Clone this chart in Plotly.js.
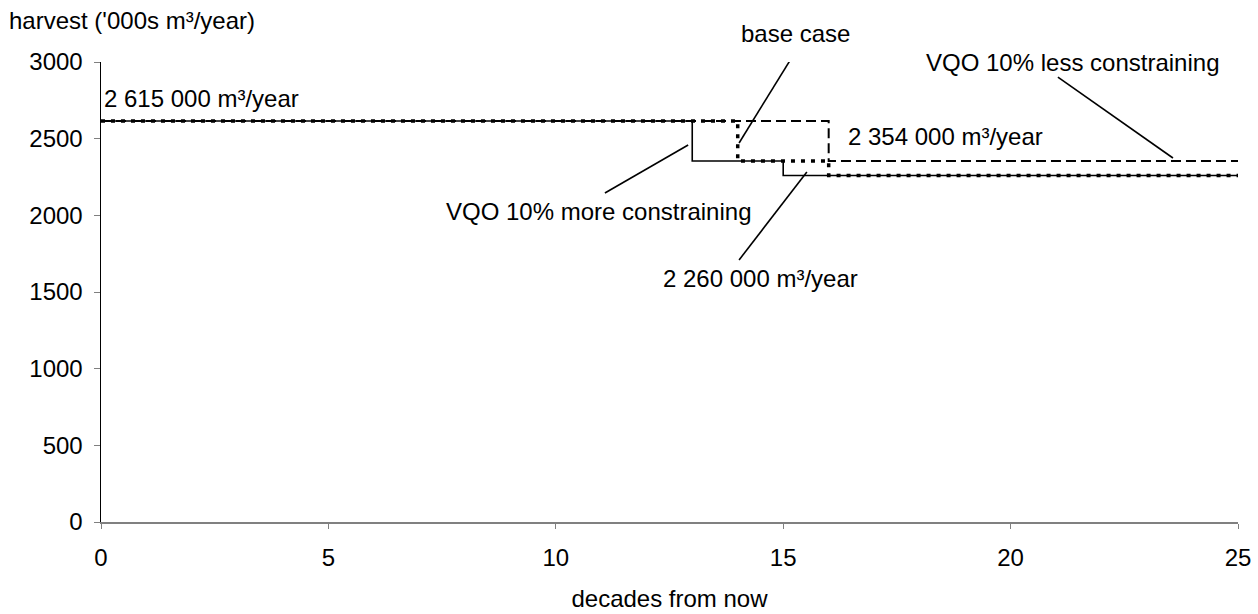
<!DOCTYPE html>
<html>
<head>
<meta charset="utf-8">
<script src="https://cdn.plot.ly/plotly-3.0.1.min.js"></script>
<style>
html,body{margin:0;padding:0;background:#fff;}
#chart{width:1258px;height:614px;}
</style>
</head>
<body>
<div id="chart"></div>
<script>
// decades from now / harvest ('000s m3/year)
const moreX = [0, 13, 15, 25];
const moreY = [2615, 2354, 2260, 2260];
const lessX = [0, 16, 25];
const lessY = [2615, 2354, 2354];
const baseX = [0, 14, 16, 25];
const baseY = [2615, 2354, 2260, 2260];
const seriesNames = ["VQO 10% more constraining", "VQO 10% less constraining", "base case"];

const FONT = "Liberation Sans, Arial, sans-serif";
const FS = 24;

const traces = [
  {x: moreX, y: moreY, name: seriesNames[0], mode: "lines",
   line: {shape: "hv", color: "#000", width: 1.6, dash: "solid"}},
  {x: lessX, y: lessY, name: seriesNames[1], mode: "lines",
   line: {shape: "hv", color: "#000", width: 2, dash: "10px,5px"}},
  {x: baseX, y: baseY, name: seriesNames[2], mode: "lines",
   line: {shape: "hv", color: "#000", width: 3.5, dash: "4px,6px"}}
];

function leader(x0, y0, x1, y1) {
  return {type: "line", xref: "x", yref: "y", x0: x0, y0: y0, x1: x1, y1: y1,
          line: {color: "#000", width: 1.6}, layer: "above"};
}
function label(text, x, y, yshift) {
  return {text: text, x: x, y: y, xref: "x", yref: "y", showarrow: false,
          yshift: yshift || 0,
          xanchor: "center", yanchor: "middle", font: {family: FONT, size: FS, color: "#000"}};
}

const layout = {
  width: 1258, height: 614,
  margin: {l: 101, r: 20, t: 62, b: 92},
  paper_bgcolor: "#fff", plot_bgcolor: "#fff",
  showlegend: false,
  font: {family: FONT, size: FS, color: "#000"},
  xaxis: {
    range: [0, 25], dtick: 5, tick0: 0,
    showgrid: false, zeroline: false,
    showline: true, linecolor: "#808080", linewidth: 1.5,
    ticks: "outside", ticklen: 5, tickcolor: "#808080", tickwidth: 1,
    ticklabelstandoff: 9,
    tickfont: {family: FONT, size: FS, color: "#000"},
    title: {text: "decades from now", font: {family: FONT, size: FS, color: "#000"}, standoff: 20}
  },
  yaxis: {
    range: [0, 3000], dtick: 500, tick0: 0,
    showgrid: false, zeroline: false,
    showline: true, linecolor: "#000", linewidth: 1.5,
    ticks: "outside", ticklen: 6, tickcolor: "#808080", tickwidth: 1,
    ticklabelstandoff: 6,
    tickfont: {family: FONT, size: FS, color: "#000"}
  },
  shapes: [
    leader(15.21, 3039, 14.03, 2472),
    leader(21.04, 2902, 23.57, 2374),
    leader(12.91, 2459, 11.08, 2146),
    leader(15.52, 2283, 14.03, 1709)
  ],
  annotations: [
    label("base case", 15.26, 3000, 29),
    label("VQO 10% less constraining", 21.35, 3000),
    label("VQO 10% more constraining", 10.93, 2028),
    label("2 260 000 m³/year", 14.51, 1591),
    label("2 615 000 m³/year", 2.2, 2759),
    label("2 354 000 m³/year", 18.56, 2517),
    {text: "harvest ('000s m³/year)", xref: "paper", yref: "paper", x: -0.083, y: 1.09,
     xanchor: "left", yanchor: "middle", showarrow: false,
     font: {family: FONT, size: FS, color: "#000"}}
  ]
};

Plotly.newPlot("chart", traces, layout, {displayModeBar: false, staticPlot: true});
</script>
</body>
</html>
